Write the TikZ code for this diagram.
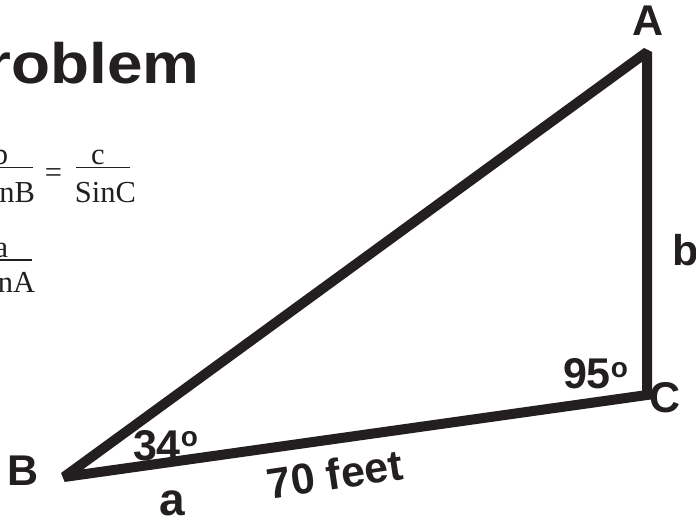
\documentclass[tikz,border=0pt]{standalone}
\usepackage{fontspec}
\setmainfont{Liberation Sans}
\newfontfamily\tnr{Liberation Serif}
\definecolor{ink}{HTML}{231F20}
\begin{document}
\begin{tikzpicture}[x=1pt,y=-1pt,
  lbl/.style={inner sep=0pt,outer sep=0pt,text=ink,font=\fontsize{43}{43}\selectfont\bfseries,anchor=base},
  ttl/.style={inner sep=0pt,outer sep=0pt,text=ink,font=\fontsize{57}{57}\selectfont\bfseries,anchor=base east},
  frm/.style={inner sep=0pt,outer sep=0pt,text=ink,font=\tnr\fontsize{30.5}{30.5}\selectfont,anchor=base},
  fbar/.style={draw=ink,line width=1.2pt},
  side/.style={draw=ink,line width=10pt,line join=miter,miter limit=2}]
\path[use as bounding box] (0,0) rectangle (696,520);
\clip (0,0) rectangle (696,520);
% title
\node[ttl] (title) at (199.5,83) {\scalebox{1.12}[1]{Problem}};
% formula
\node[frm] (f1num) at (0.5,164) {b};
\node[frm] (f1den) at (4.5,202) {SinB};
\coordinate (f1l) at (-25,167.5);
\coordinate (f1r) at (33,167.5);
\draw[fbar] (f1l) -- (f1r);
\node[frm] (eq1) at (53.5,182.5) {=};
\node[frm] (f2num) at (98,164) {c};
\node[frm] (f2den) at (105.5,202) {SinC};
\coordinate (f2l) at (76,167.5);
\coordinate (f2r) at (130,167.5);
\draw[fbar] (f2l) -- (f2r);
\node[frm] (f3num) at (1.5,257) {a};
\node[frm] (f3den) at (3.7,292) {SinA};
\coordinate (f3l) at (-25,260);
\coordinate (f3r) at (32,260);
\draw[fbar] (f3l) -- (f3r);
% triangle
\coordinate (A) at (647,52);
\coordinate (B) at (64,477);
\coordinate (C) at (647,395);
\draw[side] (B) -- (A) -- (C) -- cycle;
% labels
\node[lbl] (labA) at (648,35) {A};
\node[lbl] (labB) at (23.5,485) {B};
\node[lbl] (labC) at (665,412) {C};
\node[lbl,anchor=base west] (labb) at (672,265) {b};
\node[lbl,anchor=base west] (ang95) at (563,388) {95\raisebox{11pt}{\fontsize{28}{28}\selectfont o}};
\node[lbl,anchor=base west] (ang34) at (133,460) {34\raisebox{14pt}{\fontsize{28}{28}\selectfont o}};
\node[lbl,font=\fontsize{46}{46}\selectfont\bfseries] (laba) at (172.5,515) {a};
\node[lbl,anchor=center,rotate=8.5] (len) at (335,474) {70 feet};
\end{tikzpicture}
\end{document}
